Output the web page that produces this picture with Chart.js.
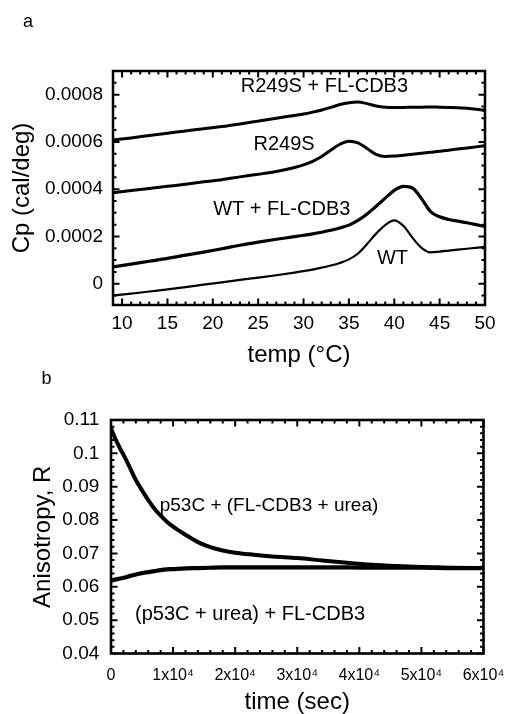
<!DOCTYPE html>
<html>
<head>
<meta charset="utf-8">
<title>Cp scans and anisotropy</title>
<script src="https://cdn.jsdelivr.net/npm/chart.js@4.4.1/dist/chart.umd.min.js"></script>
<style>
  body { margin: 0; background: #fff; }
  #panelA { position: absolute; left: 0; top: 0; }
  #panelB { position: absolute; left: 0; top: 370px; }
</style>
</head>
<body>
<canvas id="panelA" width="505" height="372"></canvas>
<canvas id="panelB" width="505" height="344"></canvas>
<script>
// panel a - DSC scans
const tempC = [9, 11, 13, 15, 17, 19, 21, 23, 25, 27, 29, 30, 31, 32, 33, 34, 35, 36, 37, 38, 39, 40, 41, 42, 43, 44, 45, 46, 47, 48, 49, 50];
const cpWT = [-0.00005, -0.000042, -0.000033, -0.000024, -0.000014, -0.000004, 0.000006, 0.000016, 0.000026, 0.000036, 0.000047, 0.000053, 0.00006, 0.000068, 0.000077, 0.000088, 0.000103, 0.000128, 0.000168, 0.000212, 0.000248, 0.000268, 0.000245, 0.000195, 0.000152, 0.000133, 0.000136, 0.00014, 0.000144, 0.000148, 0.000152, 0.000156];
const cpWTCdb3 = [0.000071, 0.000083, 0.000095, 0.000107, 0.000121, 0.000134, 0.000148, 0.000163, 0.000176, 0.000188, 0.000199, 0.000205, 0.000211, 0.000218, 0.000226, 0.000236, 0.000248, 0.000268, 0.000295, 0.000328, 0.000362, 0.000395, 0.000412, 0.000405, 0.00036, 0.000305, 0.000283, 0.000272, 0.000265, 0.000258, 0.00025, 0.000242];
const cpR249S = [0.000385, 0.000394, 0.000403, 0.000412, 0.000421, 0.000431, 0.00044, 0.000452, 0.000463, 0.000475, 0.000492, 0.000503, 0.000518, 0.000538, 0.000565, 0.00059, 0.000603, 0.000596, 0.000572, 0.000547, 0.000538, 0.00054, 0.000544, 0.000548, 0.000552, 0.000556, 0.00056, 0.000565, 0.00057, 0.000574, 0.000579, 0.000584];
const cpR249SCdb3 = [0.000608, 0.000617, 0.000627, 0.000637, 0.000646, 0.000656, 0.000665, 0.000676, 0.000688, 0.0007, 0.000712, 0.000718, 0.000726, 0.000735, 0.000746, 0.000758, 0.000766, 0.000769, 0.000762, 0.000752, 0.000747, 0.000746, 0.000746, 0.000747, 0.000747, 0.000748, 0.000747, 0.000746, 0.000745, 0.000742, 0.000738, 0.000733];
const tempTicks = ['10', '15', '20', '25', '30', '35', '40', '45', '50'];
const cpTicks = ['0', '0.0002', '0.0004', '0.0006', '0.0008'];

// panel b - anisotropy vs time
const timeSec = [0, 500, 1000, 1500, 2000, 3000, 4000, 5000, 6000, 7000, 8000, 9000, 10000, 12000, 14000, 16000, 18000, 20000, 23000, 26000, 30000, 34000, 38000, 42000, 46000, 50000, 55000, 60000];
const rCdb3Urea = [0.1075, 0.1052, 0.1032, 0.1013, 0.0996, 0.0959, 0.092, 0.0889, 0.086, 0.0834, 0.0813, 0.0795, 0.078, 0.0756, 0.0734, 0.0719, 0.0709, 0.0702, 0.0696, 0.0691, 0.0686, 0.0679, 0.0672, 0.0666, 0.0662, 0.0659, 0.0657, 0.0656];
const rP53Urea = [0.0618, 0.0621, 0.0623, 0.0625, 0.0627, 0.0632, 0.0637, 0.0641, 0.0644, 0.0647, 0.065, 0.0652, 0.0653, 0.0655, 0.0656, 0.0657, 0.0658, 0.0658, 0.0658, 0.0658, 0.0658, 0.0658, 0.0658, 0.0657, 0.0657, 0.0657, 0.0656, 0.0656];
const timeTicks = ['0', '1x10⁴', '2x10⁴', '3x10⁴', '4x10⁴', '5x10⁴', '6x10⁴'];
const anisoTicks = ['0.04', '0.05', '0.06', '0.07', '0.08', '0.09', '0.1', '0.11'];

const FONT = '"Liberation Sans", Arial, Helvetica, sans-serif';
Chart.defaults.font.family = FONT;
Chart.defaults.color = '#000';

function pts(xs, ys) {
    return xs.map((x, i) => ({ x: x, y: ys[i] }));
}

// inner tick positions (major + minor) along a scale
function marks(scale, minor, major) {
    const out = [];
    const n0 = Math.ceil(scale.min / minor - 1e-9);
    const n1 = Math.floor(scale.max / minor + 1e-9);
    for (let n = n0; n <= n1; n++) {
        const v = n * minor;
        const r = v / major;
        out.push([v, Math.abs(r - Math.round(r)) < 1e-6]);
    }
    return out;
}

// box frame, inward ticks on all 4 sides, curve labels, panel letter
const framePlugin = {
    id: 'frame',
    afterDatasetsDraw(chart, args, o) {
        const { ctx, chartArea: a } = chart;
        const x = chart.scales.x, y = chart.scales.y;
        ctx.save();
        ctx.strokeStyle = '#000';
        ctx.lineWidth = o.tickWidth;
        ctx.beginPath();
        marks(x, o.xMinor, x.options.ticks.stepSize).forEach(([v, big]) => {
            const px = x.getPixelForValue(v), len = big ? o.majorLen : o.minorLen;
            ctx.moveTo(px, a.bottom); ctx.lineTo(px, a.bottom - len);
            ctx.moveTo(px, a.top); ctx.lineTo(px, a.top + len);
        });
        marks(y, o.yMinor, y.options.ticks.stepSize).forEach(([v, big]) => {
            const py = y.getPixelForValue(v), len = big ? o.majorLen : o.minorLen;
            ctx.moveTo(a.left, py); ctx.lineTo(a.left + len, py);
            ctx.moveTo(a.right, py); ctx.lineTo(a.right - len, py);
        });
        ctx.stroke();
        ctx.lineWidth = o.frameWidth;
        ctx.strokeRect(a.left, a.top, a.right - a.left, a.bottom - a.top);

        ctx.fillStyle = '#000';
        ctx.textAlign = 'center';
        ctx.textBaseline = 'middle';
        o.notes.forEach(n => {
            ctx.font = n.size + 'px ' + FONT;
            ctx.fillText(n.text, x.getPixelForValue(n.x), y.getPixelForValue(n.y));
        });
        ctx.textAlign = 'left';
        ctx.textBaseline = 'alphabetic';
        ctx.font = o.tag.size + 'px ' + FONT;
        ctx.fillText(o.tag.text, o.tag.left, o.tag.base);
        ctx.restore();
    }
};

// Panel a
new Chart(document.getElementById('panelA'), {
    type: 'line',
    plugins: [framePlugin],
    data: {
        datasets: [
            { data: pts(tempC, cpR249SCdb3), borderWidth: 3 },
            { data: pts(tempC, cpR249S), borderWidth: 3 },
            { data: pts(tempC, cpWTCdb3), borderWidth: 3.2 },
            { data: pts(tempC, cpWT), borderWidth: 2.2 },
        ],
    },
    options: {
        responsive: false,
        animation: false,
        events: [],
        layout: { padding: { top: 71, right: 20, left: 0, bottom: 0 } },
        elements: {
            point: { radius: 0 },
            line: { borderColor: '#000', cubicInterpolationMode: 'monotone', fill: false },
        },
        plugins: {
            legend: { display: false },
            tooltip: { enabled: false },
            frame: {
                frameWidth: 2.5, tickWidth: 2, majorLen: 6.5, minorLen: 3.5,
                xMinor: 1, yMinor: 0.00005,
                tag: { text: 'a', size: 18, left: 23, base: 27 },
                notes: [
                    { text: 'R249S + FL-CDB3', x: 32.3, y: 0.000835, size: 20 },
                    { text: 'R249S', x: 27.85, y: 0.000587, size: 20 },
                    { text: 'WT + FL-CDB3', x: 27.6, y: 0.000313, size: 20 },
                    { text: 'WT', x: 39.8, y: 0.000108, size: 20 },
                ],
            },
        },
        scales: {
            x: {
                type: 'linear', min: 9, max: 50,
                grid: { display: false, drawTicks: false }, border: { display: false },
                ticks: {
                    stepSize: 5, includeBounds: false, autoSkip: false, maxRotation: 0,
                    padding: 7.5, font: { size: 19 },
                    callback: (v, i) => tempTicks[i],
                },
                title: { display: true, text: 'temp (°C)', font: { size: 24, lineHeight: 1 }, padding: { top: 0, bottom: 5 } },
                afterFit: s => { s.height = 67; s.paddingLeft = 0; s.paddingRight = 0; },
            },
            y: {
                type: 'linear', min: -0.00009, max: 0.0009,
                grid: { display: false, drawTicks: false }, border: { display: false },
                ticks: {
                    stepSize: 0.0002, includeBounds: false, autoSkip: false,
                    padding: 10, font: { size: 19 },
                    callback: (v, i) => cpTicks[i],
                },
                title: { display: true, text: 'Cp (cal/deg)', font: { size: 24, lineHeight: 1 }, padding: { top: 10.5, bottom: 0 } },
                afterFit: s => { s.width = 113; s.paddingTop = 0; s.paddingBottom = 0; },
            },
        },
    },
});

// Panel b
new Chart(document.getElementById('panelB'), {
    type: 'line',
    plugins: [framePlugin],
    data: {
        datasets: [
            { data: pts(timeSec, rCdb3Urea), borderWidth: 4 },
            { data: pts(timeSec, rP53Urea), borderWidth: 4.2 },
        ],
    },
    options: {
        responsive: false,
        animation: false,
        events: [],
        layout: { padding: { top: 50, right: 21.5, left: 0, bottom: 0 } },
        elements: {
            point: { radius: 0 },
            line: { borderColor: '#000', cubicInterpolationMode: 'monotone', fill: false },
        },
        plugins: {
            legend: { display: false },
            tooltip: { enabled: false },
            frame: {
                frameWidth: 2.6, tickWidth: 2, majorLen: 6.5, minorLen: 3.5,
                xMinor: 2000, yMinor: 0.002,
                tag: { text: 'b', size: 18, left: 41.5, base: 14.3 },
                notes: [
                    { text: 'p53C + (FL-CDB3 + urea)', x: 25450, y: 0.0842, size: 19 },
                    { text: '(p53C + urea) + FL-CDB3', x: 22400, y: 0.0518, size: 20 },
                ],
            },
        },
        scales: {
            x: {
                type: 'linear', min: 0, max: 60000,
                grid: { display: false, drawTicks: false }, border: { display: false },
                ticks: {
                    stepSize: 10000, autoSkip: false, maxRotation: 0,
                    padding: 12, font: { size: 16 },
                    callback: (v, i) => timeTicks[i],
                },
                title: { display: true, text: 'time (sec)', font: { size: 24, lineHeight: 1 }, padding: { top: 0, bottom: 0 } },
                afterFit: s => { s.height = 60.5; s.paddingLeft = 0; s.paddingRight = 0; },
            },
            y: {
                type: 'linear', min: 0.04, max: 0.11,
                grid: { display: false, drawTicks: false }, border: { display: false },
                ticks: {
                    stepSize: 0.01, autoSkip: false,
                    padding: 11.7, font: { size: 19 },
                    callback: (v, i) => anisoTicks[i],
                },
                title: { display: true, text: 'Anisotropy, R', font: { size: 24, lineHeight: 1 }, padding: { top: 31, bottom: 0 } },
                afterFit: s => { s.width = 111; s.paddingTop = 0; s.paddingBottom = 0; },
            },
        },
    },
});
</script>
</body>
</html>
